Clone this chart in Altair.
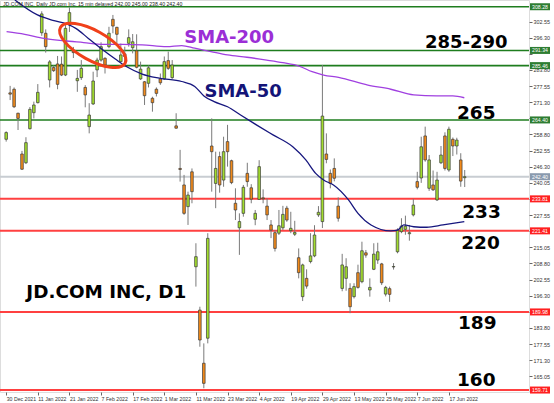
import altair as alt
import pandas as pd

# ---- daily candles, bar 0 = 30 Dec 2021 ----
bar_idx = list(range(117))
opens = [256.9, 274.9, 276.3, 267.0, 251.2, 247.8, 261.0, 267.2, 271.1, 298.2,
         298.0, 279.9, 284.7, 286.1, 286.0, 281.8, 301.3, 291.0, 279.6, 280.8,
         277.0, 261.8, 270.6, 283.8, 287.6, 288.3, 292.8, 303.4, 300.3, 287.0,
         290.0, 294.1, 292.4, 291.2, 280.3, 279.2, 278.6, 272.8, 276.3, 280.3,
         280.3, 287.4, 280.8, 262.1, 245.6, 239.2, 230.8, 244.3, 207.5, 190.7,
         170.1, 179.8, 254.3, 239.8, 250.2, 241.1, 256.0, 248.6, 232.1, 222.6,
         228.2, 243.7, 238.1, 225.9, 233.6, 234.2, 231.0, 223.7, 220.7, 220.5,
         222.6, 230.2, 221.5, 220.1, 211.0, 195.9, 203.0, 209.5, 211.7, 227.6,
         225.0, 251.2, 243.7, 245.6, 231.0, 199.1, 203.0, 199.1, 195.9, 205.2,
         201.7, 212.9, 198.5, 206.5, 210.1, 208.6, 196.9, 199.0, 207.4, 213.3,
         221.1, 222.0, 220.3, 227.6, 240.5, 241.9, 258.2, 237.9, 239.2, 233.4,
         247.8, 258.2, 245.0, 256.9, 254.3, 248.9, 242.0]
highs = [260.0, 277.6, 277.0, 267.2, 252.4, 257.7, 269.4, 271.5, 278.3, 306.5,
         299.5, 287.6, 285.5, 289.2, 289.0, 301.9, 308.0, 292.7, 283.8, 287.6,
         277.9, 270.9, 283.1, 288.5, 294.5, 288.7, 300.5, 305.1, 300.5, 294.0,
         292.8, 299.5, 297.7, 297.6, 287.0, 279.5, 285.5, 273.4, 277.0, 282.4,
         289.0, 290.9, 287.6, 267.0, 252.8, 243.1, 236.6, 245.6, 216.6, 192.0,
         177.8, 220.5, 265.0, 252.1, 252.1, 257.9, 262.5, 249.0, 237.9, 228.2,
         239.2, 247.8, 239.5, 229.5, 248.8, 237.5, 234.0, 225.6, 221.7, 229.5,
         231.1, 231.1, 228.8, 225.3, 214.6, 208.7, 206.5, 220.5, 223.6, 231.0,
         285.7, 259.2, 245.2, 249.5, 234.4, 212.5, 210.8, 201.1, 201.1, 208.3,
         217.2, 214.0, 203.0, 216.6, 216.8, 209.0, 200.1, 199.8, 208.9, 222.4,
         226.3, 227.3, 223.7, 233.8, 244.3, 257.9, 261.8, 250.8, 244.8, 244.3,
         254.3, 259.6, 261.8, 257.6, 257.5, 251.5, 245.0]
lows = [256.0, 272.1, 269.0, 260.5, 245.0, 247.3, 260.7, 265.0, 270.8, 297.0,
        290.5, 277.0, 283.0, 276.3, 281.4, 281.4, 298.5, 288.4, 275.3, 279.9,
        269.3, 259.2, 270.2, 281.0, 287.0, 282.4, 292.2, 298.0, 294.1, 287.0,
        285.0, 292.8, 290.2, 284.4, 279.9, 270.2, 277.0, 267.6, 273.5, 278.0,
        279.9, 283.8, 280.3, 261.0, 240.5, 227.6, 223.7, 232.1, 199.8, 176.5,
        160.4, 177.8, 236.6, 230.2, 236.2, 238.5, 246.3, 239.5, 225.6, 212.1,
        226.9, 238.5, 232.1, 223.6, 233.4, 232.1, 225.6, 218.6, 213.4, 219.8,
        221.7, 224.9, 220.5, 219.4, 203.0, 194.2, 199.0, 208.8, 211.2, 226.8,
        222.5, 247.6, 237.9, 240.6, 225.0, 198.0, 198.2, 189.5, 195.2, 199.0,
        201.1, 211.0, 195.9, 206.2, 208.6, 200.4, 196.0, 193.9, 206.4, 212.7,
        220.5, 219.9, 217.6, 227.0, 237.5, 240.0, 248.2, 236.9, 236.9, 233.0,
        247.3, 244.8, 244.3, 250.4, 251.0, 238.5, 238.4]
closes = [259.5, 274.4, 269.5, 265.0, 245.3, 255.6, 268.5, 270.2, 275.1, 305.5,
          292.8, 286.9, 283.5, 278.2, 281.8, 299.9, 306.0, 290.5, 280.5, 284.4,
          274.1, 266.3, 279.5, 287.6, 292.8, 285.7, 298.0, 300.8, 297.6, 289.6,
          289.0, 296.3, 294.7, 284.8, 284.1, 273.8, 284.6, 271.1, 274.7, 278.8,
          287.0, 284.4, 285.7, 261.2, 245.2, 228.2, 235.3, 236.6, 211.4, 179.1,
          162.3, 218.5, 252.1, 245.6, 239.2, 252.1, 252.1, 240.1, 229.5, 225.0,
          238.3, 240.5, 233.7, 228.2, 246.3, 233.8, 227.6, 221.7, 214.6, 223.4,
          227.8, 225.6, 222.4, 220.8, 205.2, 208.2, 200.0, 211.7, 219.8, 228.6,
          265.9, 249.1, 239.8, 241.8, 226.3, 208.2, 207.5, 192.0, 199.8, 199.5,
          213.7, 212.0, 199.5, 212.4, 213.3, 201.3, 199.5, 196.8, 207.6, 221.7,
          223.3, 223.2, 220.7, 231.4, 238.3, 254.0, 248.9, 248.9, 237.3, 241.1,
          250.8, 245.6, 260.8, 254.3, 256.6, 240.7, 242.4]

# ---- moving averages ----
sma50_idx = [2.2, 7.9, 12.1, 15.3, 17.6, 20.8, 24.5, 27.7, 30.5, 34.4, 38.7,
             44.4, 47.7, 50.1, 52.6, 56.0, 59.3, 63.4, 67.5, 72.5, 75.8, 78.3,
             80.3, 82.8, 86.6, 89.0, 92.3, 97.3, 99.0, 100.6, 103.1, 106.4,
             110.5, 115.9]
sma50_val = [310.9, 305.1, 302.9, 301.6, 299.9, 296.0, 291.5, 287.9, 285.0,
             282.2, 280.6, 279.3, 277.4, 273.6, 271.5, 269.5, 266.3, 262.4,
             258.6, 254.0, 248.9, 243.7, 241.1, 239.2, 233.4, 228.2, 223.7,
             221.4, 221.7, 223.7, 223.0, 222.8, 223.7, 225.0]
sma200_idx = [0.1, 4.7, 9.6, 14.6, 19.6, 24.5, 29.5, 34.4, 40.6, 44.4, 47.7,
              51.8, 56.0, 60.9, 65.9, 70.0, 74.1, 77.4, 80.3, 84.1, 91.5, 97.3,
              103.1, 108.9, 113.0, 115.9]
sma200_val = [298.6, 297.6, 296.0, 295.1, 294.4, 293.7, 293.7, 293.5, 292.8,
              293.2, 292.2, 290.9, 289.6, 288.7, 287.6, 286.6, 285.3, 283.1,
              281.8, 280.9, 277.9, 276.3, 274.1, 273.7, 273.7, 273.0]

# ---- horizontal price levels ----
level_vals = [308.28, 291.34, 285.46, 264.40, 242.40, 233.81, 221.41, 189.98, 159.71]
level_kind = ["res", "res", "res", "res", "last", "sup", "sup", "sup", "sup"]

# ---- axis labels ----
date_pos = [0, 8, 16, 24, 32, 40, 48, 56, 64, 72, 80, 88, 96, 104, 112]
date_text = ["30 Dec 2021", "11 Jan 2022", "21 Jan 2022", "7 Feb 2022",
             "17 Feb 2022", "1 Mar 2022", "11 Mar 2022", "23 Mar 2022",
             "4 Apr 2022", "19 Apr 2022", "29 Apr 2022", "13 May 2022",
             "25 May 2022", "7 Jun 2022", "17 Jun 2022"]
price_ticks = [165.05, 171.30, 177.55, 183.80, 190.05, 196.30, 202.55, 208.80,
               215.05, 221.30, 227.55, 233.80, 240.05, 246.30, 252.55, 258.80,
               265.05, 271.30, 277.55, 283.80, 290.05, 296.30, 302.55]
# tick labels that sit underneath a level price box
covered_ticks = ["190.05", "221.30", "233.80", "265.05", "290.05"]

# ---- annotations ----
note_text = ["SMA-200", "SMA-50", "285-290", "265", "233", "220", "189", "160",
             "JD.COM INC, D1"]
note_idx = [45.05, 50.16, 105.93, 114.05, 115.36, 115.11, 114.3, 114.05, 5.09]
note_val = [296.05, 275.23, 294.22, 267.09, 228.72, 216.70, 185.7, 163.6, 197.83]
note_color = ["#9B2FD6", "#141478", "#000000", "#000000", "#000000", "#000000",
              "#000000", "#000000", "#000000"]
note_size = [18, 18, 18, 18.5, 18.5, 18.5, 18.5, 18.5, 18.4]

header = "JD.COM INC, Daily  JD.com Inc. 15 min delayed  242.00 245.00 238.40 242.40"

W, H = 529, 392
FONT = "DejaVu Sans"
SMALL = "Liberation Sans"

candles = pd.DataFrame({"i": bar_idx, "o": opens, "h": highs, "l": lows, "c": closes})
candles["dir"] = ["up" if c >= o else "down" for o, c in zip(opens, closes)]

sma50 = pd.DataFrame({"i": sma50_idx, "v": sma50_val})
sma200 = pd.DataFrame({"i": sma200_idx, "v": sma200_val})

level_color_map = {"res": "#1E7D1E", "last": "#C8CDD2", "sup": "#FF4040"}
box_color_map = {"res": "#2E7D32", "last": "#8A9AAE", "sup": "#FF2020"}
levels = pd.DataFrame({"v": level_vals, "kind": level_kind})
levels["lc"] = [level_color_map[k] for k in level_kind]
levels["bc"] = [box_color_map[k] for k in level_kind]
levels["lab"] = [f"{v:.2f}" for v in level_vals]
levels["sw"] = [1.6 if k == "res" else 2.0 for k in level_kind]

notes = pd.DataFrame({"t": note_text, "i": note_idx, "v": note_val,
                      "col": note_color, "fs": note_size})

x_scale = alt.Scale(domain=[-0.3, 131.0], nice=False, zero=False)
y_scale = alt.Scale(domain=[158.95, 310.89], nice=False, zero=False)

label_expr = "[" + ",".join(f"'{t}'" for t in date_text) + "][round(datum.value / 8)]"
hidden = "[" + ",".join(f"'{t}'" for t in covered_ticks) + "]"
y_label_expr = f"indexof({hidden}, datum.label) >= 0 ? '' : datum.label"

x_axis = alt.Axis(values=date_pos, labelExpr=label_expr, orient="bottom", title=None,
                  labelAlign="left", labelFontSize=5.2, labelFont=SMALL,
                  labelColor="#333333", labelPadding=1, tickSize=3,
                  tickColor="#666666", domain=False, grid=False, labelOverlap=False)
y_axis = alt.Axis(values=price_ticks, format=".2f", labelExpr=y_label_expr,
                  orient="right", title=None,
                  labelFontSize=5.4, labelFont=SMALL, labelColor="#333333",
                  labelPadding=1, tickSize=3, tickColor="#666666", domain=False,
                  grid=False, labelOverlap=False)


def X(field):
    return alt.X(field, type="quantitative", scale=x_scale, axis=x_axis)


def Y(field):
    return alt.Y(field, type="quantitative", scale=y_scale, axis=y_axis)


# price level lines across the plot
level_lines = alt.Chart(levels).mark_rule(strokeCap="butt").encode(
    x=alt.value(0), x2=alt.value(W), y=Y("v"),
    color=alt.Color("lc:N", scale=None),
    strokeWidth=alt.StrokeWidth("sw:Q", scale=None),
)

# price boxes on the right axis
level_boxes = alt.Chart(levels).mark_rule(strokeWidth=7, strokeCap="butt").encode(
    x=alt.value(W + 1), x2=alt.value(W + 21), y=Y("v"),
    color=alt.Color("bc:N", scale=None),
)
level_box_text = alt.Chart(levels).mark_text(
    fontSize=5.2, font=SMALL, color="white", align="center", baseline="middle"
).encode(x=alt.value(W + 11), y=Y("v"), text="lab:N")

wicks = alt.Chart(candles).mark_rule(color="#7A7A7A", strokeWidth=1).encode(
    x=X("i"), y=Y("l"), y2="h"
)
bodies = alt.Chart(candles).mark_bar(size=2.6, stroke="#3A3A3A", strokeWidth=0.7).encode(
    x=X("i"), y=Y("o"), y2="c",
    color=alt.Color("dir:N", scale=alt.Scale(domain=["up", "down"],
                                             range=["#A2DD2E", "#F28A1A"]), legend=None),
)

sma50_line = alt.Chart(sma50).mark_line(color="#16167E", strokeWidth=1.3, clip=True,
                                        interpolate="monotone").encode(x=X("i"), y=Y("v"))
sma200_line = alt.Chart(sma200).mark_line(color="#A040E0", strokeWidth=1.3, clip=True,
                                          interpolate="monotone").encode(x=X("i"), y=Y("v"))

# hand-drawn style ellipse around the crossover
ellipse_path = ("M 1 0 C 1 0.221 0.552 0.4 0 0.4 C -0.552 0.4 -1 0.221 -1 0 "
                "C -1 -0.221 -0.552 -0.4 0 -0.4 C 0.552 -0.4 1 -0.221 1 0 Z")
ellipse = alt.Chart(pd.DataFrame({"i": [21.9], "v": [293.3]})).mark_point(
    shape=ellipse_path, size=5476, angle=29, filled=False,
    stroke="#F0401A", strokeWidth=3, opacity=1
).encode(x=X("i"), y=Y("v"))

note_layer = alt.Chart(notes).mark_text(
    font=FONT, fontWeight="bold", align="left", baseline="middle"
).encode(
    x=X("i"), y=Y("v"), text="t:N",
    color=alt.Color("col:N", scale=None),
    size=alt.Size("fs:Q", scale=None),
)

header_text = alt.Chart(pd.DataFrame({"t": [header]})).mark_text(
    font=SMALL, fontSize=5.2, color="#222222", align="left", baseline="middle"
).encode(x=alt.value(3), y=alt.value(4), text="t:N")

chart = alt.layer(
    level_lines, wicks, bodies, sma200_line, sma50_line, ellipse,
    note_layer, level_boxes, level_box_text, header_text
).properties(
    width=W, height=H,
    padding={"left": 0, "top": 0, "right": 25, "bottom": 11},
    autosize=alt.AutoSizeParams(type="none"),
).configure_view(stroke="#7F7F7F", strokeWidth=1).configure(background="white")

chart.save("out.html", embed_options={"renderer": "svg", "actions": False})
